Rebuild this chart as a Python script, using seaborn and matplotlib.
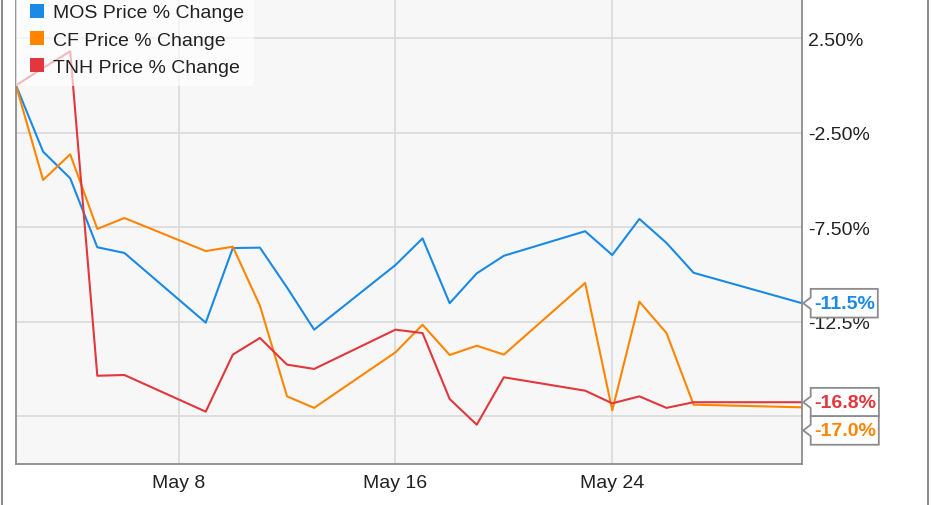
import pandas as pd
import numpy as np
import matplotlib
matplotlib.use("Agg")
import matplotlib.pyplot as plt
from matplotlib.lines import Line2D
from matplotlib.path import Path
import seaborn as sns

# dati (variazione % dal 2 maggio)
giorni = ["2016-05-02", "2016-05-03", "2016-05-04", "2016-05-05", "2016-05-06",
          "2016-05-09", "2016-05-10", "2016-05-11", "2016-05-12", "2016-05-13",
          "2016-05-16", "2016-05-17", "2016-05-18", "2016-05-19", "2016-05-20",
          "2016-05-23", "2016-05-24", "2016-05-25", "2016-05-26", "2016-05-27",
          "2016-05-31"]
mos = [0.0, -3.51, -4.92, -8.57, -8.87, -12.56, -8.61, -8.59, -10.7, -12.93,
       -9.51, -8.10, -11.53, -9.95, -9.02, -7.72, -8.98, -7.07, -8.34, -9.92, -11.53]
cf = [0.0, -5.01, -3.65, -7.60, -7.02, -8.77, -8.54, -11.66, -16.46, -17.07,
      -14.13, -12.67, -14.27, -13.78, -14.25, -10.46, -17.2, -11.45, -13.11, -16.90, -17.04]
tnh = [0.0, 0.92, 1.80, -15.37, -15.33, -17.27, -14.25, -13.37, -14.78, -15.01,
       -12.93, -13.11, -16.60, -17.96, -15.45, -16.16, -16.83, -16.46, -17.07, -16.77, -16.77]

serie = ["MOS Price % Change", "CF Price % Change", "TNH Price % Change"]
colori = ["#1a8ae6", "#ff8500", "#e2373c"]
etichette_fine = ["-11.5%", "-17.0%", "-16.8%"]

# la griglia a -17.5 non ha etichetta visibile (coperta dai box)
yticks = [2.5, -2.5, -7.5, -12.5, -17.5]
ytick_lab = ["2.50%", "-2.50%", "-7.50%", "-12.5%", ""]
xticks = ["2016-05-08", "2016-05-16", "2016-05-24"]
xtick_lab = ["May 8", "May 16", "May 24"]

df = pd.DataFrame({"data": pd.to_datetime(giorni * 3),
                   "serie": np.repeat(serie, len(giorni)),
                   "variazione": mos + cf + tnh})

sns.set_theme(style="whitegrid")
plt.rcParams["font.family"] = ["Liberation Sans", "DejaVu Sans"]

fig = plt.figure(figsize=(9.31, 5.06), dpi=100)
ax = fig.add_axes([16 / 931, 1 - 465 / 506, (802 - 16) / 931, 465 / 506])
ax.set_facecolor("#f7f7f7")

sns.lineplot(data=df, x="data", y="variazione", hue="serie", hue_order=serie,
             palette=colori, linewidth=1.5, legend=False, ax=ax)

ax.set_xlim(pd.Timestamp(giorni[0]), pd.Timestamp(giorni[-1]))
ax.set_ylim(-20.04, 4.57)
ax.set_xlabel("")
ax.set_ylabel("")

ax.set_xticks(pd.to_datetime(xticks))
ax.set_xticklabels(xtick_lab)
ax.set_yticks(yticks)
ax.set_yticklabels(ytick_lab)
ax.yaxis.tick_right()
for lab in ax.get_yticklabels():
    lab.set_horizontalalignment("left")
ax.tick_params(axis="y", length=0, pad=4.5, labelsize=14, labelcolor="#222222")
ax.tick_params(axis="x", length=0, pad=7, labelsize=14, labelcolor="#222222")
ax.grid(True, color="#dcdcdc", linewidth=1.3)

for lato in ["left", "bottom", "right"]:
    ax.spines[lato].set_visible(True)
    ax.spines[lato].set_color("#8c8c8c")
    ax.spines[lato].set_linewidth(1.3)
ax.spines["top"].set_visible(False)


# box con la punta a sinistra per le etichette finali
def box_punta(x0, y0, width, height, mutation_size):
    padx = 0.16 * mutation_size
    pady = 0.30 * mutation_size
    x0, y0 = x0 - padx, y0 - pady
    w, h = width + 2 * padx, height + 2 * pady
    x1, y1 = x0 + w, y0 + h
    ym = y0 + h / 2
    n = h * 0.2
    return Path([(x0, y0), (x1, y0), (x1, y1), (x0, y1), (x0, ym + n),
                 (x0 - n * 1.3, ym), (x0, ym - n), (x0, y0)], closed=True)


finali = [mos[-1], cf[-1], tnh[-1]]
ordine = np.argsort(finali)[::-1]
altezza_pt = 20.3
pt_per_unita = (465 * 0.72) / (4.57 + 20.04)
ultimo = None
for i in ordine:
    pos_pt = finali[i] * pt_per_unita
    dy = 0.0
    if ultimo is not None and ultimo - pos_pt < altezza_pt:
        dy = -(altezza_pt - (ultimo - pos_pt))
    ultimo = pos_pt + dy
    ax.annotate(etichette_fine[i], xy=(pd.Timestamp(giorni[-1]), finali[i]),
                xytext=(8.5, dy), textcoords="offset points", ha="left", va="center",
                fontsize=14, fontweight="bold", color=colori[i], annotation_clip=False,
                bbox=dict(boxstyle=box_punta, fc="white", ec="#8c8c8c", lw=1.3),
                zorder=10)

handles = [Line2D([], [], marker="s", linestyle="none", markersize=9.5,
                  markeredgewidth=0, color=c) for c in colori]
leg = ax.legend(handles, serie, loc="upper left", bbox_to_anchor=(0, 1 + 5 / 465),
                borderaxespad=0, fontsize=14, frameon=True, fancybox=False,
                framealpha=0.65, edgecolor="none", handlelength=1.2,
                handletextpad=0.2, labelspacing=0.5, borderpad=0.5)
for t in leg.get_texts():
    t.set_color("#222222")
leg.set_zorder(5)

# bordo della figura
fig.add_artist(Line2D([1.5 / 931, 1.5 / 931], [0, 1], color="#8c8c8c", lw=1.5))
fig.add_artist(Line2D([928 / 931, 928 / 931], [0, 1], color="#8c8c8c", lw=1.5))

fig.savefig("out.png", dpi=100)
